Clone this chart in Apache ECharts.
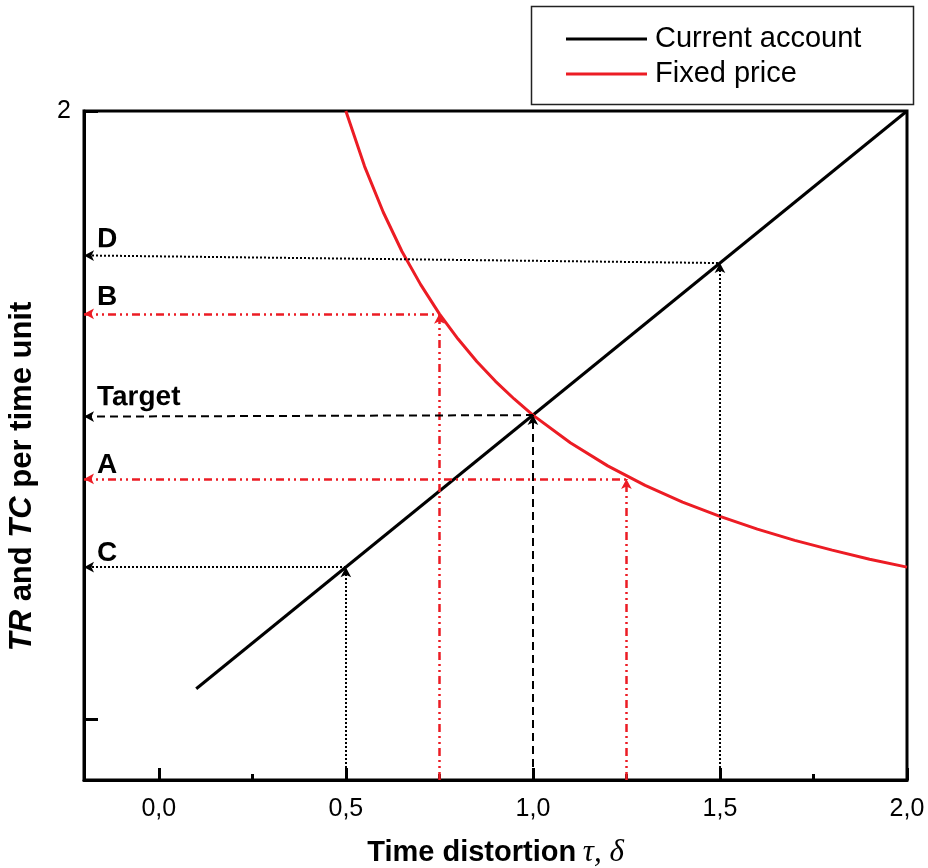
<!DOCTYPE html>
<html>
<head>
<meta charset="utf-8">
<script src="https://cdn.jsdelivr.net/npm/echarts@6/dist/echarts.min.js"></script>
<style>
html,body{margin:0;padding:0;background:#fff;}
#c{width:928px;height:868px;}
</style>
</head>
<body>
<div id="c"></div>
<script>
// ---- data ----
const xMajorTicks = [0, 0.5, 1.0, 1.5, 2.0];
const xTickLabels = ['0,0', '0,5', '1,0', '1,5', '2,0'];
const xMinorTicks = [0.25, 0.75, 1.25, 1.75];
const yTicks = [0, 2];
const yTickLabels = [2];

const currentAccountX = [0.1, 2.0];
const currentAccountY = [0.1, 2.0];

const fixedPriceX = [0.50, 0.55, 0.60, 0.65, 0.70, 0.75, 0.80, 0.85, 0.90, 0.95, 1.00, 1.10, 1.20, 1.30, 1.40, 1.50, 1.60, 1.70, 1.80, 1.90, 2.00];
const fixedPriceY = [2.000, 1.818, 1.667, 1.538, 1.429, 1.333, 1.250, 1.176, 1.111, 1.053, 1.000, 0.909, 0.833, 0.769, 0.714, 0.667, 0.625, 0.588, 0.556, 0.526, 0.500];

const markerNames = ['D', 'B', 'Target', 'A', 'C'];
const markerX = [1.5, 0.75, 1.0, 1.25, 0.5];
const markerY = [1.5, 1.333, 1.0, 0.79, 0.5];
const markerYLeft = [1.525, 1.333, 0.995, 0.79, 0.5];
const markerKind = ['dotted', 'dashdot', 'dashed', 'dashdot', 'dotted'];

const X_MIN = -0.2, X_MAX = 2.0, Y_MIN = -0.2, Y_MAX = 2.0;

// ---- build ----
const FONT = 'Liberation Sans, Arial, sans-serif';
const RED = '#ec1c24';
const styles = {
  dotted: { color: '#000', width: 2, type: [2, 2] },
  dashed: { color: '#000', width: 2, type: [8, 5] },
  dashdot: { color: RED, width: 2.5, type: [8, 4, 2, 4, 2, 4] }
};
const labelDist = { 'D': 2, 'B': 3, 'Target': 5, 'A': 0, 'C': 0 };

const guideLines = [];
markerNames.forEach((n, i) => {
  const ls = styles[markerKind[i]];
  guideLines.push([
    { name: n, coord: [X_MIN, markerYLeft[i]], symbol: 'arrow', symbolSize: [8, 10], lineStyle: ls,
      label: { show: true, formatter: n, position: 'insideStartTop', distance: [13, labelDist[n]],
        fontFamily: FONT, fontWeight: 'bold', fontSize: 28, color: '#000' } },
    { coord: [markerX[i], markerY[i]], symbol: 'none' }
  ]);
  guideLines.push([
    { name: n + 'v', coord: [markerX[i], Y_MIN], symbol: 'none', lineStyle: ls, label: { show: false } },
    { coord: [markerX[i], markerY[i]], symbol: 'arrow', symbolSize: [8, 10] }
  ]);
});

const chart = echarts.init(document.getElementById('c'), null, { renderer: 'canvas' });
chart.setOption({
  animation: false,
  backgroundColor: '#fff',
  grid: { left: 84, right: 21, top: 111, bottom: 88, outerBoundsMode: 'none', containLabel: false,
    show: true, borderColor: '#000', borderWidth: 3, backgroundColor: 'transparent' },
  graphic: [{
    type: 'rect', left: 529, top: 4, shape: { width: 382, height: 98 },
    style: { fill: 'none', stroke: '#222', lineWidth: 1.5 }, silent: true
  }],
  legend: {
    data: ['Current account', 'Fixed price'],
    orient: 'vertical', left: 566, top: 24, padding: 0, itemWidth: 81, itemHeight: 3, itemGap: 5, icon: 'rect',
    textStyle: { fontFamily: FONT, fontSize: 29, lineHeight: 30, color: '#000', padding: [0, 0, 0, 3] },
    selectedMode: false
  },
  xAxis: [{
    type: 'value', min: X_MIN, max: X_MAX,
    name: '{b|Time distortion}  {g|τ, δ}', nameLocation: 'middle', nameGap: 57,
    nameTextStyle: { rich: {
      b: { fontFamily: FONT, fontWeight: 'bold', fontSize: 29, color: '#000' },
      g: { fontFamily: 'Liberation Serif, Times New Roman, serif', fontStyle: 'italic', fontSize: 31, color: '#000' }
    } },
    axisLine: { show: true, onZero: false, lineStyle: { color: '#000', width: 3 } },
    axisTick: { show: true, inside: true, length: 12, lineStyle: { color: '#000', width: 3 }, customValues: xMajorTicks },
    axisLabel: { show: true, customValues: xMajorTicks, margin: 17, fontFamily: FONT, fontSize: 25, color: '#000',
      formatter: v => { const k = xMajorTicks.findIndex(t => Math.abs(t - v) < 1e-6); return k >= 0 ? xTickLabels[k] : ''; } },
    splitLine: { show: false }
  }, {
    type: 'value', min: X_MIN, max: X_MAX, position: 'bottom',
    axisLine: { show: false, onZero: false },
    axisTick: { show: true, inside: true, length: 6, lineStyle: { color: '#000', width: 3 }, customValues: xMinorTicks },
    axisLabel: { show: false },
    splitLine: { show: false }
  }],
  yAxis: {
    type: 'value', min: Y_MIN, max: Y_MAX,
    name: '{i|TR} and {i|TC} per time unit', nameLocation: 'middle', nameGap: 46,
    nameTextStyle: { fontFamily: FONT, fontWeight: 'bold', fontSize: 31, color: '#000', padding: [0, 62, 0, 0],
      rich: { i: { fontFamily: FONT, fontWeight: 'bold', fontStyle: 'italic', fontSize: 31, color: '#000' } } },
    axisLine: { show: true, onZero: false, lineStyle: { color: '#000', width: 3 } },
    axisTick: { show: true, inside: true, length: 14, lineStyle: { color: '#000', width: 3 }, customValues: yTicks },
    axisLabel: { show: true, customValues: yTickLabels, margin: 13, fontFamily: FONT, fontSize: 25, color: '#000',
      formatter: v => String(v) },
    splitLine: { show: false }
  },
  series: [{
    name: 'guides', type: 'line', data: [], silent: true,
    markLine: { silent: true, animation: false, symbol: ['none', 'none'], data: guideLines }
  }, {
    name: 'Current account', type: 'line', symbol: 'none', smooth: false,
    data: currentAccountX.map((x, i) => [x, currentAccountY[i]]),
    lineStyle: { color: '#000', width: 3 }, itemStyle: { color: '#000' }, z: 3
  }, {
    name: 'Fixed price', type: 'line', symbol: 'none', smooth: false,
    data: fixedPriceX.map((x, i) => [x, fixedPriceY[i]]),
    lineStyle: { color: RED, width: 3 }, itemStyle: { color: RED }, z: 3
  }]
});
</script>
</body>
</html>
